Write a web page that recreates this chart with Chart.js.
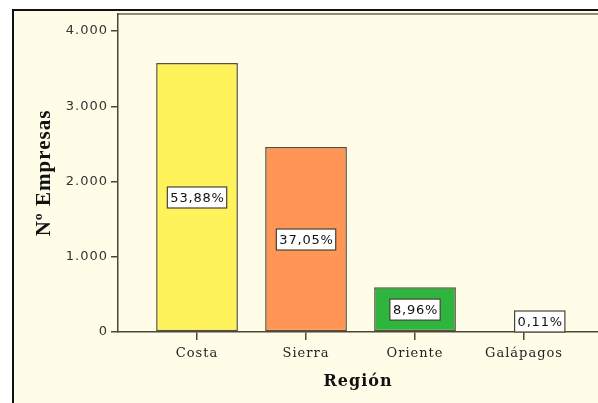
<!DOCTYPE html>
<html>
<head>
<meta charset="utf-8">
<script src="https://cdn.jsdelivr.net/npm/chart.js@4.4.1/dist/chart.umd.min.js"></script>
<style>
  html, body { margin: 0; padding: 0; background: #fff; overflow: hidden; }
  #wrap { width: 598px; height: 403px; }
</style>
</head>
<body>
<div id="wrap"><canvas id="myChart" width="598" height="403"></canvas></div>
<script>
// data
const regiones = ['Costa', 'Sierra', 'Oriente', 'Galápagos'];
const empresas = [3575, 2458, 595, 7];
const porcentajes = ['53,88%', '37,05%', '8,96%', '0,11%'];
const yTickValues = [0, 1000, 2000, 3000, 4000];
const yTickLabels = ['0', '1.000', '2.000', '3.000', '4.000'];
const barColors = ['#fff35c', '#ff9655', '#2eb53e', '#3b57a8'];

const cream = '#fffde8';
const lineColor = '#4f4636';

// background, outer frame and plot frame
const framePlugin = {
    id: 'frame',
    beforeDraw(chart) {
        const ctx = chart.ctx;
        const a = chart.chartArea;
        ctx.save();
        ctx.fillStyle = '#ffffff';
        ctx.fillRect(0, 0, chart.width, chart.height);
        ctx.fillStyle = cream;
        ctx.fillRect(12, 9, chart.width, chart.height);
        ctx.strokeStyle = '#111';
        ctx.lineWidth = 2;
        ctx.beginPath();
        ctx.moveTo(13, chart.height + 2);
        ctx.lineTo(13, 10);
        ctx.lineTo(chart.width + 2, 10);
        ctx.stroke();
        ctx.strokeStyle = '#6b6250';
        ctx.lineWidth = 1.5;
        ctx.beginPath();
        ctx.moveTo(a.left, a.top);
        ctx.lineTo(chart.width + 2, a.top);
        ctx.stroke();
        ctx.restore();
        ctx.letterSpacing = '1px';
    }
};

// percentage boxes on the bars
const boxPlugin = {
    id: 'boxes',
    afterDatasetsDraw(chart) {
        const ctx = chart.ctx;
        const meta = chart.getDatasetMeta(0);
        const base = chart.scales.y.getPixelForValue(0);
        ctx.save();
        ctx.font = '13px "DejaVu Sans"';
        ctx.letterSpacing = '0.8px';
        ctx.textBaseline = 'middle';
        ctx.textAlign = 'left';
        meta.data.forEach((bar, i) => {
            const txt = porcentajes[i];
            const w = ctx.measureText(txt).width + 5;
            const h = 21;
            let cx = bar.x;
            let cy = (bar.y + base) / 2;
            let x = cx - w / 2;
            let y = cy - h / 2;
            if (y + h > base - 4) {
                y = base - h;
                x = bar.x + bar.width / 2 - w;
            }
            ctx.fillStyle = '#ffffff';
            ctx.fillRect(x, y, w, h);
            ctx.strokeStyle = '#4a4238';
            ctx.lineWidth = 1.2;
            ctx.strokeRect(x, y, w, h);
            ctx.fillStyle = '#111';
            ctx.fillText(txt, x + 3, y + h / 2 + 1);
        });
        ctx.restore();
    }
};

const ctx = document.getElementById('myChart').getContext('2d');

const myChart = new Chart(ctx, {
    type: 'bar',
    data: {
        labels: regiones,
        datasets: [{
            label: 'Nº Empresas',
            data: empresas,
            backgroundColor: barColors,
            borderColor: '#5a4e3c',
            borderWidth: 1.5,
            borderSkipped: false,
            categoryPercentage: 1,
            barPercentage: 0.75
        }]
    },
    options: {
        responsive: false,
        animation: false,
        layout: { padding: { top: 14, left: 0, right: 0, bottom: 0 } },
        plugins: {
            legend: { display: false },
            tooltip: { enabled: false }
        },
        scales: {
            x: {
                offset: true,
                afterFit(scale) { scale.height = 71; },
                afterBuildTicks(scale) {
                    // SPSS leaves a wider gap before the first bar
                    scale._startValue = -0.725;
                    scale._valueRange = 480 / 109;
                },
                grid: {
                    drawOnChartArea: false,
                    color: lineColor,
                    lineWidth: 1.5,
                    tickLength: 8,
                    offset: false
                },
                border: { color: lineColor, width: 1.5 },
                ticks: {
                    color: '#222',
                    padding: 6,
                    font: { family: '"DejaVu Serif"', size: 13 }
                },
                title: {
                    display: true,
                    text: 'Región',
                    color: '#111',
                    font: { family: '"DejaVu Serif"', size: 16, weight: 'bold' },
                    padding: { top: 0, bottom: 12 }
                }
            },
            y: {
                min: 0,
                max: 4226,
                afterFit(scale) { scale.width = 118; },
                afterBuildTicks(scale) {
                    scale.ticks = yTickValues.map(v => ({ value: v }));
                },
                grid: {
                    drawOnChartArea: false,
                    color: lineColor,
                    lineWidth: 1.5,
                    tickLength: 7
                },
                border: { color: lineColor, width: 1.5 },
                ticks: {
                    color: '#333',
                    padding: 3,
                    font: { family: '"DejaVu Sans"', size: 13 },
                    callback: (v, i) => yTickLabels[i]
                },
                title: {
                    display: true,
                    text: 'Nº Empresas',
                    color: '#111',
                    font: { family: '"Liberation Serif"', size: 21, weight: 'bold' },
                    padding: { top: 32, bottom: 0 }
                }
            }
        }
    },
    plugins: [framePlugin, boxPlugin]
});
</script>
</body>
</html>
